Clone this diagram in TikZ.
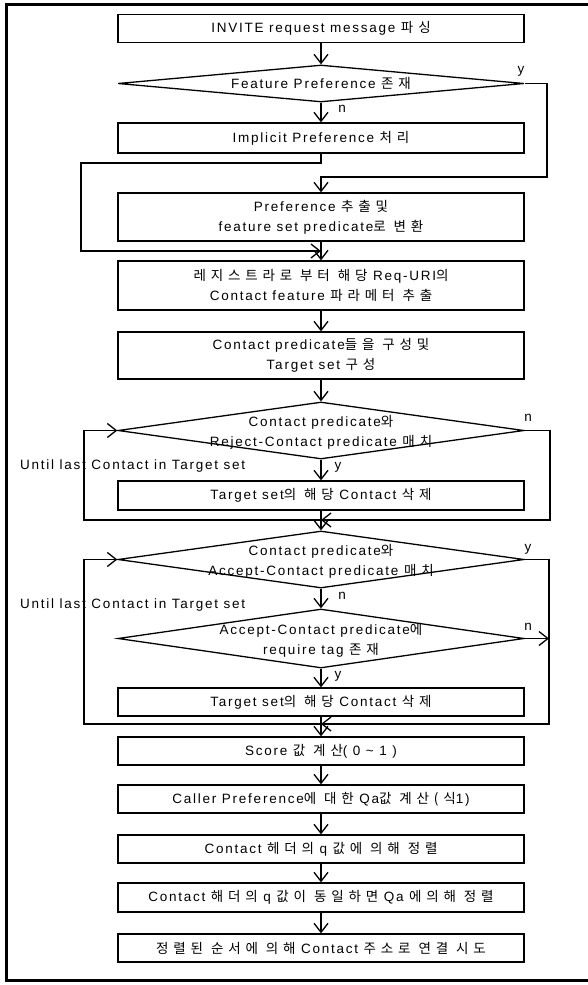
\documentclass[tikz,border=0pt]{standalone}
\usepackage{fontspec}
\setmainfont{Liberation Sans}[LetterSpace=13]
\newfontfamily\kr{Noto Sans CJK KR}[LetterSpace=36]
\usetikzlibrary{arrows.meta,shapes.geometric}
\newcommand\hg[1]{{\kr #1}}
\begin{document}
\begin{tikzpicture}[x=1pt,y=-1pt,
  box/.style={draw, line width=1.3pt, minimum width=406pt, minimum height=28pt,
    inner sep=0pt, align=center, font=\fontsize{13.5}{20}\selectfont},
  dia/.style={draw, diamond, line width=1.3pt, minimum width=406pt, inner sep=0pt},
  txt/.style={align=center, font=\fontsize{13.5}{20}\selectfont, inner sep=0pt},
  lbl/.style={font=\fontsize{13.5}{15}\selectfont, inner sep=0pt},
  arr/.style={line width=1.3pt, -{Straight Barb[length=9pt,width=14pt]}},
]
\useasboundingbox (0,0) rectangle (587,985);

% outer frame
\draw[line width=3pt] (600,4) -- (6,4) -- (6,980) -- (600,980);

% process boxes and decisions
\node[box] (b1) at (321,28.5) {INVITE request message \hg{파싱}};
\node[dia, minimum height=37pt] (d1) at (321,83.5) {};
\node[txt] (d1t) at (d1) {Feature Preference \hg{존재}};
\node[box, minimum height=30pt] (b2) at (321,138) {Implicit Preference \hg{처리}};
\node[box, minimum height=48pt] (b3) at (321,217) {Preference \hg{추출및}\\feature set predicate\hg{로 변환}};
\node[box, minimum height=49pt] (b4) at (321,285.5) {\hg{레지스트라로 부터 해당} Req-URI\hg{의}\\Contact feature \hg{파라메터 추출}};
\node[box, minimum height=47pt] (b5) at (321,355.5) {Contact predicate\hg{들을 구성및}\\Target set \hg{구성}};
\node[dia, minimum height=57pt] (d2) at (321,430.5) {};
\node[box, minimum height=29pt] (b6) at (321,495.5) {Target set\hg{의 해당} Contact \hg{삭제}};
\node[dia, minimum height=57pt] (d3) at (321,559.5) {};
\node[dia, minimum height=59pt] (d4) at (321,638.5) {};
\node[box] (b7) at (321,702) {Target set\hg{의 해당} Contact \hg{삭제}};
\node[box] (b8) at (321,751) {Score \hg{값 계산}( 0 {\char"007E} 1 )};
\node[box] (b9) at (321,799) {Caller Preference\hg{에 대한} Qa\hg{값 계산(식}1)};
\node[box] (b10) at (321,849) {Contact \hg{헤더의} q \hg{값에 의해 정렬}};
\node[box, minimum height=29pt] (b11) at (321,897.5) {Contact \hg{해더의} q \hg{값이 동일하면} Qa \hg{에의해 정렬}};
\node[box] (b12) at (321,948) {\hg{정렬된 순서에 의해} Contact \hg{주소로 연결 시도}};

% loop captions
\node[txt, anchor=west] (u1) at (20,466) {Until last Contact in Target set};
\node[txt, anchor=west] (u2) at (20,605) {Until last Contact in Target set};

% decision texts
\node[txt] (d2t) at (321,432) {Contact predicate\hg{와}\\Reject-Contact predicate \hg{매치}};
\node[txt] (d3t) at (321,561) {Contact predicate\hg{와}\\Accept-Contact predicate \hg{매치}};
\node[txt] (d4t) at (321,640) {Accept-Contact predicate\hg{에}\\require tag \hg{존재}};

% branch labels
\node[lbl] (ly1) at (521,71) {y};
\node[lbl] (ln1) at (342,109) {n};
\node[lbl] (ln2) at (528,418) {n};
\node[lbl] (ly2) at (338,467) {y};
\node[lbl] (ly3) at (528,549) {y};
\node[lbl] (ln3) at (342,596) {n};
\node[lbl] (ln4) at (528,627) {n};
\node[lbl] (ly4) at (338,676) {y};

% helper points for the routed connectors
\coordinate (c1) at (321,163);
\coordinate (c2) at (81,163);
\coordinate (c3) at (81,251);
\coordinate (c4) at (321,251);
\coordinate (r1) at (547,83.5);
\coordinate (r2) at (547,177);
\coordinate (r3) at (321,177);
\coordinate (m2) at (321,520);
\coordinate (e2a) at (550,430.5);
\coordinate (e2b) at (550,520);
\coordinate (w2a) at (84,520);
\coordinate (w2b) at (84,430.5);
\coordinate (m3) at (321,724);
\coordinate (e3a) at (549,559.5);
\coordinate (e3b) at (549,724);
\coordinate (w3a) at (84,724);
\coordinate (w3b) at (84,559.5);
\coordinate (e4) at (549,638.5);

% straight flow
\draw[arr] (b1) -- (d1);
\draw[arr] (d1) -- (b2);
\draw[arr] (b3) -- (b4);
\draw[arr] (b4) -- (b5);
\draw[arr] (b5) -- (d2);
\draw[arr] (d2) -- (b6);
\draw[arr] (b6) -- (d3);
\draw[arr] (d3) -- (d4);
\draw[arr] (d4) -- (b7);
\draw[arr] (b7) -- (b8);
\draw[arr] (b8) -- (b9);
\draw[arr] (b9) -- (b10);
\draw[arr] (b10) -- (b11);
\draw[arr] (b11) -- (b12);

% routed branches and loops
\draw[arr] (b2.south) -- (c1) -- (c2) -- (c3) -- (c4);
\draw[arr] (d1.east) -- (r1) -- (r2) -- (r3) -- (b3.north);
\draw[arr] (d2.east) -- (e2a) -- (e2b) -- (m2);
\draw[arr] (m2) -- (w2a) -- (w2b) -- (d2.west);
\draw[arr] (d3.east) -- (e3a) -- (e3b) -- (m3);
\draw[arr] (m3) -- (w3a) -- (w3b) -- (d3.west);
\draw[arr] (d4.east) -- (e4);
\end{tikzpicture}
\end{document}
